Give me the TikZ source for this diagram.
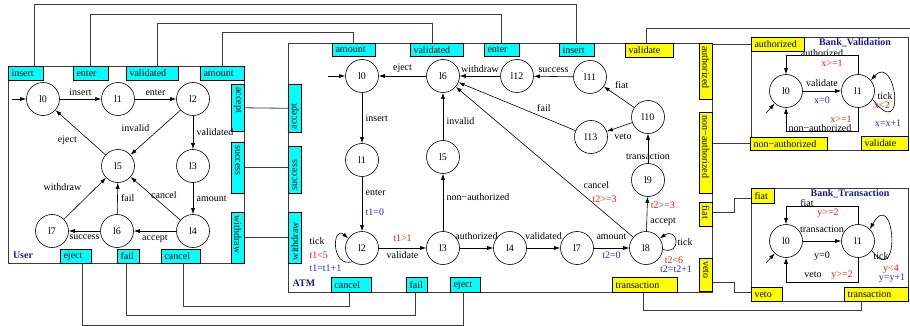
\documentclass[tikz,border=0pt]{standalone}
\usepackage{fontspec}
\setmainfont{Liberation Serif}
\usetikzlibrary{arrows.meta}
\definecolor{portcyan}{RGB}{0,255,255}
\definecolor{portyellow}{RGB}{255,255,0}
\definecolor{grdcol}{RGB}{245,20,20}
\definecolor{updcol}{RGB}{40,40,200}
\definecolor{ttlcol}{RGB}{25,25,150}
\definecolor{frmcol}{RGB}{60,60,60}
% port box: style, name, x, y (from top), width, height
\newcommand{\pbox}[6]{\node[#1,minimum width=#5,minimum height=#6] (#2) at (#3,-#4) {};}
\begin{document}
\begin{tikzpicture}[>={Latex[length=6pt,width=4pt]},x=1pt,y=1pt,font=\fontsize{10}{12}\selectfont,
	loc/.style={draw,circle,minimum size=33pt,inner sep=0pt,line width=0.6pt},
	cport/.style={draw,fill=portcyan,anchor=north west,inner sep=0pt,line width=0.6pt},
	yport/.style={draw,fill=portyellow,anchor=north west,inner sep=0pt,line width=0.6pt},
	htxt/.style={label={[anchor=west]west:#1}},
	dtxt/.style={label={[rotate=-90,anchor=west]north:#1}},
	utxt/.style={label={[rotate=90,anchor=west]south:#1}},
	frame/.style={draw=frmcol,line width=0.8pt},
	wire/.style={draw=frmcol,line width=0.8pt},
	tr/.style={->,line width=0.6pt},
	grd/.style={text=grdcol},
	upd/.style={text=updcol},
	ttl/.style={text=ttlcol,font=\fontsize{10}{12}\selectfont\bfseries}]
	\useasboundingbox (0,0) rectangle (910,-326);
	% frames
	\draw[frame] (8,-66) rectangle (244,-263);
	\draw[frame] (288,-43) rectangle (712,-292);
	\draw[frame] (751,-37) rectangle (908.5,-150);
	\draw[frame] (751,-188) rectangle (908.5,-301);
	% User ports
	\pbox{cport,htxt=insert}{uinsert}{8}{66}{35}{14}
	\pbox{cport,htxt=enter}{uenter}{73}{66}{35}{14}
	\pbox{cport,htxt=validated}{uvalidated}{126}{66}{52}{14}
	\pbox{cport,htxt=amount}{uamount}{200}{66}{44}{14}
	\pbox{cport,dtxt=accept}{uaccept}{231}{84}{13}{47}
	\pbox{cport,dtxt=success}{usuccess}{231}{142}{13}{51}
	\pbox{cport,dtxt=withdraw}{uwithdraw}{231}{212}{13}{51}
	\pbox{cport,htxt=eject}{ueject}{60}{249}{31}{14}
	\pbox{cport,htxt=fail}{ufail}{117}{249}{22}{14}
	\pbox{cport,htxt=cancel}{ucancel}{161}{249}{39}{14}
	% ATM ports
	\pbox{cport,htxt=amount}{aamount}{332}{43}{43}{13}
	\pbox{cport,htxt=validated}{avalidated}{410}{43}{53}{13}
	\pbox{cport,htxt=enter}{aenter}{484}{43}{35}{13}
	\pbox{cport,htxt=insert}{ainsert}{559}{43}{35}{13}
	\pbox{yport,htxt=validate}{avalidate}{625}{43}{48}{14}
	\pbox{cport,utxt=accept}{aaccept}{288}{84}{13}{48}
	\pbox{cport,utxt=success}{asuccess}{288}{146}{13}{47}
	\pbox{cport,utxt=withdraw}{awithdraw}{288}{212}{13}{51}
	\pbox{cport,htxt=cancel}{acancel}{331}{277}{40}{15}
	\pbox{cport,htxt=fail}{afail}{406}{277}{21}{15}
	\pbox{cport,htxt=eject}{aeject}{450}{277}{30}{15}
	\pbox{yport,htxt=transaction}{atransaction}{612}{277}{65}{15}
	\pbox{yport,dtxt=authorized}{aauthorized}{699}{43}{13}{56}
	\pbox{yport,dtxt=non−authorized}{anonauth}{699}{112}{13}{81}
	\pbox{yport,dtxt=fiat}{afiat}{699}{202}{13}{24}
	\pbox{yport,dtxt=veto}{aveto}{699}{258}{13}{33}
	% Bank ports
	\pbox{yport,htxt=authorized}{bvauthorized}{751}{37}{53}{14}
	\pbox{yport,htxt=non−authorized}{bvnonauth}{750}{137}{77}{13}
	\pbox{yport,htxt=validate}{bvvalidate}{861}{136}{47}{14}
	\pbox{yport,htxt=fiat}{btfiat}{751}{188}{23}{15}
	\pbox{yport,htxt=veto}{btveto}{751}{287}{31}{14}
	\pbox{yport,htxt=transaction}{bttransaction}{844}{287}{64}{14}
	% wires
	\coordinate (vright) at (910,-28);
	\draw[wire] ([xshift=8.5pt]uinsert.north) -- ++(0,62) -| (ainsert.north);
	\draw[wire] (uenter.north) -- ++(0,52) -| (aenter.north);
	\draw[wire] ([xshift=5pt]uvalidated.north) -- ++(0,43) -| ([xshift=-4.5pt]avalidated.north);
	\draw[wire] (uamount.north) -- ++(0,34) -| (aamount.north);
	\draw[wire] (uaccept.east) -- (aaccept.west);
	\draw[wire] (usuccess.east) -- (usuccess.east -| asuccess.west);
	\draw[wire] (uwithdraw.east) -- (awithdraw.west);
	\draw[wire] ([xshift=2.5pt]ucancel.south) -- ++(0,-43) -| ([xshift=-2pt]acancel.south);
	\draw[wire] ([xshift=-2pt]ufail.south) -- ++(0,-52) -| ([xshift=-1.5pt]afail.south);
	\draw[wire] ([xshift=6.5pt]ueject.south) -- ++(0,-62) -| ([xshift=-2pt]aeject.south);
	\draw[wire] ([xshift=-3pt]avalidate.north) |- (vright);
	\draw[wire] ([xshift=-1.5pt]atransaction.south) -- ++(0,-18) -| ([xshift=-14.5pt]bttransaction.south);
	\draw[wire] (bvauthorized.west) -- (bvauthorized.west -| aauthorized.east);
	\draw[wire] (bvnonauth.west) -- (bvnonauth.west -| anonauth.east);
	\draw[wire] ([yshift=2pt]afiat.east) -- ++(22,0) |- ([yshift=-2.5pt]btfiat.west);
	\draw[wire] ([yshift=-7.5pt]aveto.east) -- ++(22,0) |- ([yshift=2pt]btveto.west);
	% User
	\node[ttl] (utitle) at (23,-255) {User};
	\node[loc] (ul0) at (43,-99) {l0};
	\node[loc] (ul1) at (118,-99) {l1};
	\node[loc] (ul2) at (193,-99) {l2};
	\node[loc] (ul5) at (118,-166) {l5};
	\node[loc] (ul3) at (193,-166) {l3};
	\node[loc] (ul7) at (52,-231) {l7};
	\node[loc] (ul6) at (117,-231) {l6};
	\node[loc] (ul4) at (193,-231) {l4};
	\coordinate (ustart) at (12,-99);
	\draw[tr] (ustart) -- (ul0);
	\draw[tr] (ul0) -- node[above]{insert} (ul1);
	\draw[tr] (ul1) -- node[above]{enter} (ul2);
	\draw[tr] (ul2) -- node[above left,pos=0.55]{invalid} (ul5);
	\draw[tr] (ul2) -- node[right]{validated} (ul3);
	\draw[tr] (ul5) -- node[below left]{eject} (ul0);
	\draw[tr] (ul3) -- node[right]{amount} (ul4);
	\draw[tr] (ul4) -- node[below]{accept} (ul6);
	\draw[tr] (ul6) -- node[below]{success} (ul7);
	\draw[tr] (ul6) -- node[right]{fail} (ul5);
	\draw[tr] (ul4) -- node[right=-4pt,pos=0.58]{cancel} (ul5);
	\draw[tr] (ul7) -- node[above left,yshift=4pt]{withdraw} (ul5);
	% ATM
	\node[ttl] (atitle) at (304,-283) {ATM};
	\node[loc] (al0) at (362,-76) {l0};
	\node[loc] (al6) at (443,-76) {l6};
	\node[loc] (al12) at (517,-76) {l12};
	\node[loc] (al11) at (590,-77) {l11};
	\node[loc] (al1) at (362,-160) {l1};
	\node[loc] (al5) at (443,-157) {l5};
	\node[loc] (al13) at (591,-137) {l13};
	\node[loc] (al10) at (648,-117) {l10};
	\node[loc] (al9) at (648,-180) {l9};
	\node[loc] (al2) at (362,-248) {l2};
	\node[loc] (al3) at (443,-248) {l3};
	\node[loc] (al4) at (510,-248) {l4};
	\node[loc] (al7) at (577,-248) {l7};
	\node[loc] (al8) at (646,-248) {l8};
	\coordinate (astart) at (328,-76);
	\draw[tr] (astart) -- (al0);
	\draw[tr] (al6) -- node[above]{eject} (al0);
	\draw[tr] (al0) -- node[right]{insert} (al1);
	\draw[tr] (al1) -- node[right,pos=0.3]{enter} node[right,pos=0.65,upd]{t1=0} (al2);
	\draw[tr] (al2.235) .. controls +(-22,-6) and +(-16,14) .. (al2.145);
	\node[align=left,anchor=west,font=\fontsize{10}{13.5}\selectfont] (a2lbl) at (306,-255)
		{tick\\\textcolor{grdcol}{t1<5}\\\textcolor{updcol}{t1=t1+1}};
	\draw[tr] (al2) -- node[above=3pt,grd]{t1>1} node[below]{validate} (al3);
	\draw[tr] (al3) -- node[right,pos=0.6]{non−authorized} (al5);
	\draw[tr] (al5) -- node[right,pos=0.4]{invalid} (al6);
	\draw[tr] (al3) -- node[above=5pt]{authorized} (al4);
	\draw[tr] (al4) -- node[above=5pt]{validated} (al7);
	\draw[tr] (al7) -- node[above=5pt]{amount} node[below,upd]{t2=0} (al8);
	\draw[tr] (al8.-5) .. controls +(20,-6) and +(18,12) .. (al8.35);
	\node (a8tick) at (685,-242) {tick};
	\node[grd] (a8grd) at (674,-260) {t2<6};
	\node[upd] (a8upd) at (676,-269) {t2=t2+1};
	\draw[tr] (al8) -- node[right,pos=0.76,grd]{t2>=3} node[right,pos=0.28]{accept} (al9);
	\draw[tr] (al9) -- node[pos=0.22]{transaction} (al10);
	\draw[tr] (al10) -- node[above right,pos=0.75]{fiat} (al11);
	\draw[tr] (al10) -- node[below right,pos=0.85]{veto} (al13);
	\draw[tr] (al11) -- node[above]{success} (al12);
	\draw[tr] (al12) -- node[above]{withdraw} (al6);
	\draw[tr] (al13) -- node[above=2pt,pos=0.27]{fail} (al6);
	\draw[tr] (al8) -- node[above right,pos=0.3]{cancel} node[right,pos=0.25,grd]{t2>=3} (al6);
	% Bank_Validation
	\node[ttl] (bvtitle) at (855,-43) {Bank\_Validation};
	\node[loc] (bl0) at (786,-91) {l0};
	\node[loc] (bl1) at (858,-91) {l1};
	\coordinate (bvstart) at (766,-113);
	\draw[tr] (bvstart) -- (bl0);
	\draw[tr] (bl0) -- node[above=1pt]{validate} node[below=2pt,upd]{x=0} (bl1);
	\draw[tr] (bl1.north) -- ++(0,18.5) -| (bl0.north);
	\draw[tr] (bl1.south) -- ++(0,-23.5) -| (bl0.south);
	\draw[tr] (bl1.-30) .. controls +(35,-45) and +(25,28) .. (bl1.40);
	\node (bvauth) at (822,-53) {authorized};
	\node[grd] (bvgrd1) at (832,-63) {x>=1};
	\node[grd] (bvgrd2) at (841,-119) {x>=1};
	\node (bvnon) at (820,-128) {non−authorized};
	\node (bvtick) at (885,-96) {tick};
	\node[grd] (bvgrd3) at (882,-105) {x<2};
	\node[upd] (bvupd) at (888,-123) {x=x+1};
	% Bank_Transaction
	\node[ttl] (bttitle) at (850,-194) {Bank\_Transaction};
	\node[loc] (btl0) at (786,-241) {l0};
	\node[loc] (btl1) at (858,-241) {l1};
	\coordinate (btstart) at (766,-263);
	\draw[tr] (btstart) -- (btl0);
	\draw[tr] (btl0) -- node[above=5pt]{transaction} node[below=7pt]{y=0} (btl1);
	\draw[tr] (btl1.north) -- ++(0,17.5) -| (btl0.north);
	\draw[tr] (btl1.south) -- ++(0,-24.5) -| (btl0.south);
	\draw[tr] (btl1.-35) .. controls +(30,-40) and +(25,45) .. (btl1.45);
	\node (btfiatl) at (807,-203) {fiat};
	\node[grd] (btgrd1) at (828,-213) {y>=2};
	\node (btvetol) at (813,-275) {veto};
	\node[grd] (btgrd2) at (842,-275) {y>=2};
	\node (bttick) at (881,-256) {tick};
	\node[grd] (btgrd3) at (891,-269) {y<4};
	\node[upd] (btupd) at (892,-278) {y=y+1};
\end{tikzpicture}
\end{document}
